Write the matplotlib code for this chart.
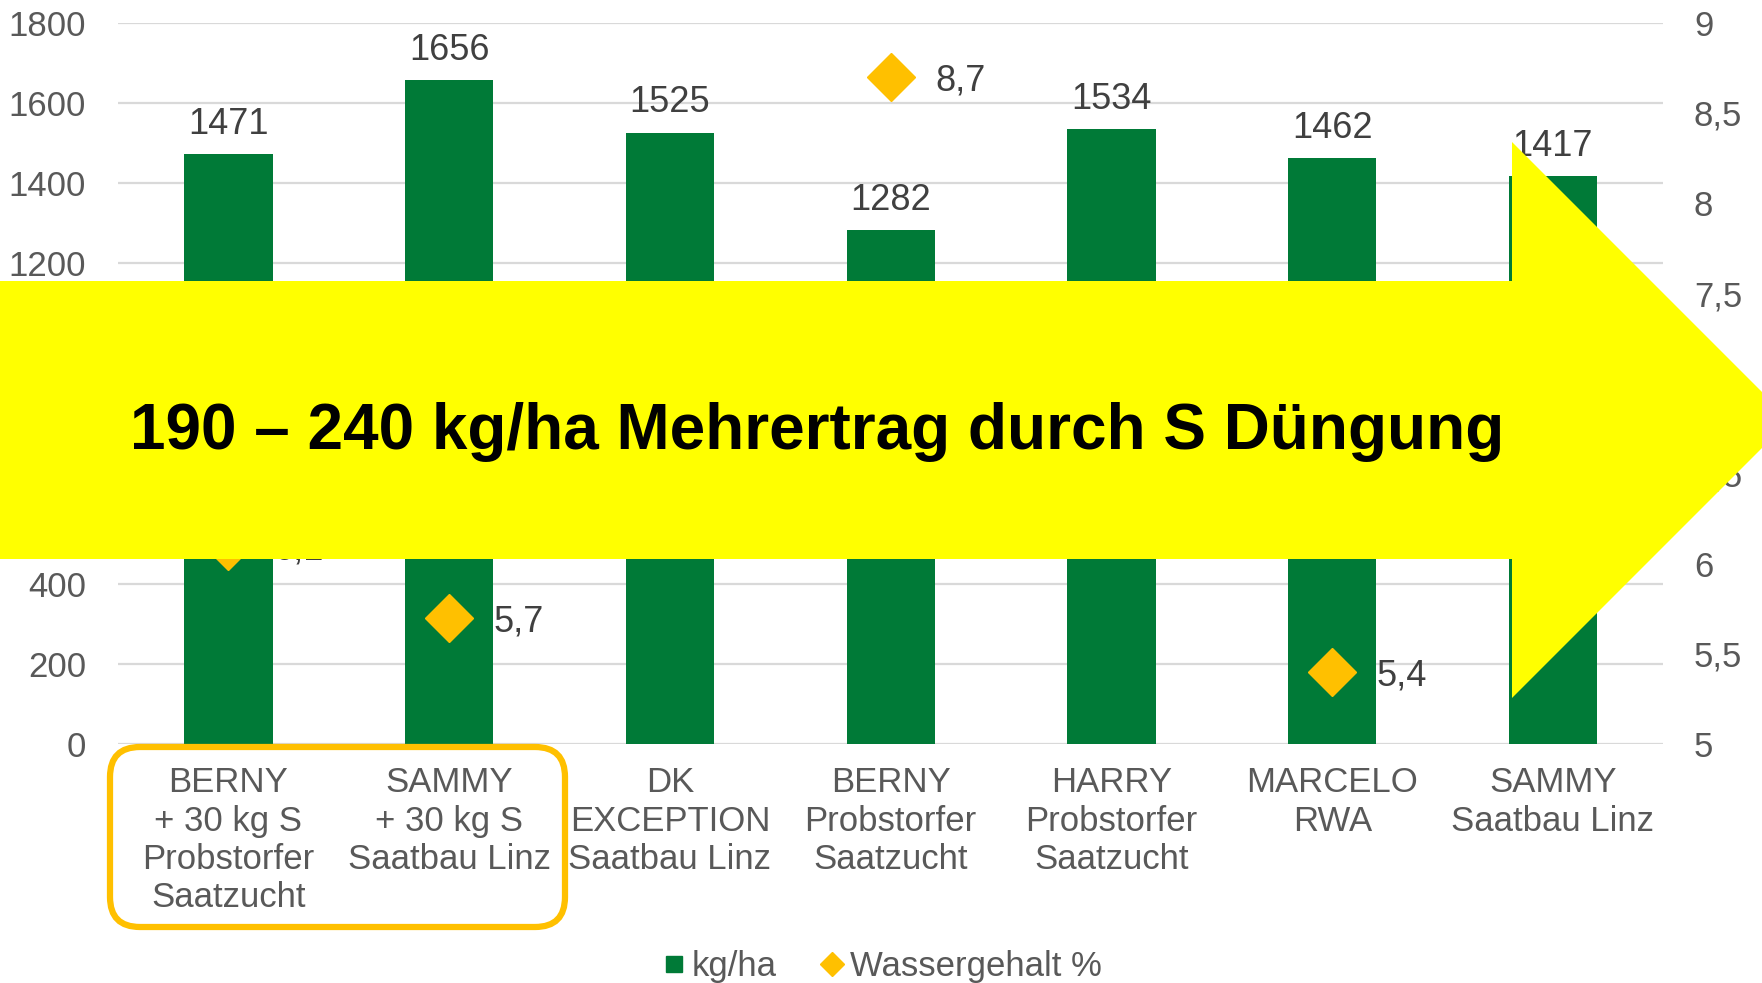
import matplotlib.pyplot as plt
from matplotlib.lines import Line2D
from matplotlib.patches import Polygon, FancyBboxPatch

plt.rcParams['font.family'] = ['Liberation Sans', 'DejaVu Sans']

# data
sorten = ["BERNY\n+ 30 kg S\nProbstorfer\nSaatzucht",
          "SAMMY\n+ 30 kg S\nSaatbau Linz",
          "DK\nEXCEPTION\nSaatbau Linz",
          "BERNY\nProbstorfer\nSaatzucht",
          "HARRY\nProbstorfer\nSaatzucht",
          "MARCELO\nRWA",
          "SAMMY\nSaatbau Linz"]
ertrag = [1471, 1656, 1525, 1282, 1534, 1462, 1417]
# values under the yellow arrow are not readable, estimated
wasser = [6.1, 5.7, 6.6, 8.7, 6.9, 5.4, 6.8]
left_ticks = [0, 200, 400, 600, 800, 1000, 1200, 1400, 1600, 1800]
right_ticks = [5, 5.5, 6, 6.5, 7, 7.5, 8, 8.5, 9]

green = '#007A37'
orange = '#FFC000'
grey = '#595959'
dark = '#404040'

fig = plt.figure(figsize=(17.62, 9.83), dpi=100)
ax = fig.add_axes([0.067, 0.243, 0.877, 0.734])
ax2 = ax.twinx()

x = list(range(len(sorten)))
ax.bar(x, ertrag, width=0.4, color=green, zorder=2)
for xi, v in zip(x, ertrag):
    ax.annotate(str(v), (xi, v), xytext=(0, 9), textcoords='offset points',
                ha='center', va='bottom', fontsize=26, color=dark)

ax.set_xlim(-0.5, 6.5)
ax.set_ylim(0, 1800)
ax.set_yticks(left_ticks)
ax.set_yticklabels([str(t) for t in left_ticks])
ax.set_xticks(x)
ax.set_xticklabels(sorten, linespacing=1.2)
ax.grid(axis='y', color='#D9D9D9', linewidth=1.6, zorder=0)
ax.set_axisbelow(True)
ax.tick_params(axis='y', length=0, pad=23, labelsize=25, labelcolor=grey)
ax.tick_params(axis='x', length=0, pad=16, labelsize=25, labelcolor=grey)

ax2.plot(x, wasser, linestyle='none', marker='D', markersize=24,
         color=orange, zorder=3)
for xi, v in zip(x, wasser):
    ax2.annotate(f"{v:.1f}".replace('.', ','), (xi, v), xytext=(32, -3),
                 textcoords='offset points', ha='left', va='center',
                 fontsize=26, color=dark)
ax2.set_ylim(5, 9)
ax2.set_yticks(right_ticks)
ax2.set_yticklabels([f"{t:g}".replace('.', ',') for t in right_ticks])
ax2.tick_params(axis='y', length=0, pad=22, labelsize=25, labelcolor=grey)

for a in (ax, ax2):
    for s in a.spines.values():
        s.set_visible(False)

handles = [Line2D([], [], linestyle='none', marker='s', markersize=12, color=green),
           Line2D([], [], linestyle='none', marker='D', markersize=12, color=orange)]
fig.legend(handles, ['kg/ha', 'Wassergehalt %'], loc='center',
           bbox_to_anchor=(0.5, 0.017), ncol=2, frameon=False, fontsize=25,
           labelcolor=grey, handletextpad=0.1, columnspacing=1.2,
           handlelength=0.8)

# overlay in pixel coordinates for the arrow and the box
ov = fig.add_axes([0, 0, 1, 1], zorder=10)
ov.set_xlim(0, 1762)
ov.set_ylim(983, 0)
ov.axis('off')
ov.patch.set_alpha(0)

arrow = Polygon([(0, 281), (1512, 281), (1512, 142), (1790, 420),
                 (1512, 698), (1512, 559), (0, 559)],
                closed=True, facecolor='#FFFF00', edgecolor='none', clip_on=False)
ov.add_patch(arrow)
ov.text(817, 449, "190 – 240 kg/ha Mehrertrag durch S Düngung",
        ha='center', va='baseline', fontsize=46, fontweight='bold', color='black')

box = FancyBboxPatch((110, 747), 455, 180, boxstyle='round,pad=0,rounding_size=30',
                     facecolor='none', edgecolor=orange, linewidth=4.5)
ov.add_patch(box)

fig.savefig('out.png', dpi=100)
